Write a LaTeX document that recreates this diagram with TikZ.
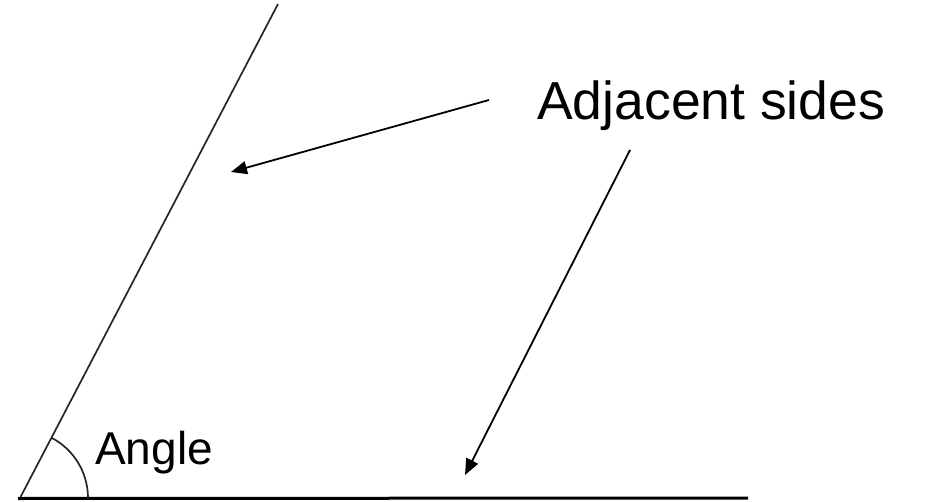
\documentclass[tikz,border=0pt]{standalone}
\usepackage{fontspec}
\setmainfont{Liberation Sans}
\usetikzlibrary{arrows.meta}
\begin{document}
\begin{tikzpicture}[x=1pt,y=1pt,
  side/.style={line width=1.7pt,black!85},
  base/.style={line width=3pt,black},
  pointer/.style={line width=1.8pt,-{Triangle[length=16pt,width=13pt]}},
  lbl/.style={inner sep=0pt,anchor=base west}]
\useasboundingbox (0,0) rectangle (925,501);
\coordinate (V) at (20,3);
\coordinate (T) at (278,497);
\coordinate (H) at (748,3);
\draw[side] (V) -- (T);
\draw[base] (18,2.5) -- (H);
\draw[side] ([shift={(68,0)}]V) arc[start angle=0,end angle=62.3,radius=68];
\node[lbl] (adj) at (537,381) {\fontsize{53.5}{62}\selectfont Adjacent sides};
\node[lbl] (ang) at (95,37) {\fontsize{46}{55}\selectfont Angle};
\coordinate (s1) at (489,401);
\coordinate (e1) at (231,329);
\coordinate (s2) at (630,351);
\coordinate (e2) at (465,26);
\draw[pointer] (s1) -- (e1);
\draw[pointer] (s2) -- (e2);
\end{tikzpicture}
\end{document}
